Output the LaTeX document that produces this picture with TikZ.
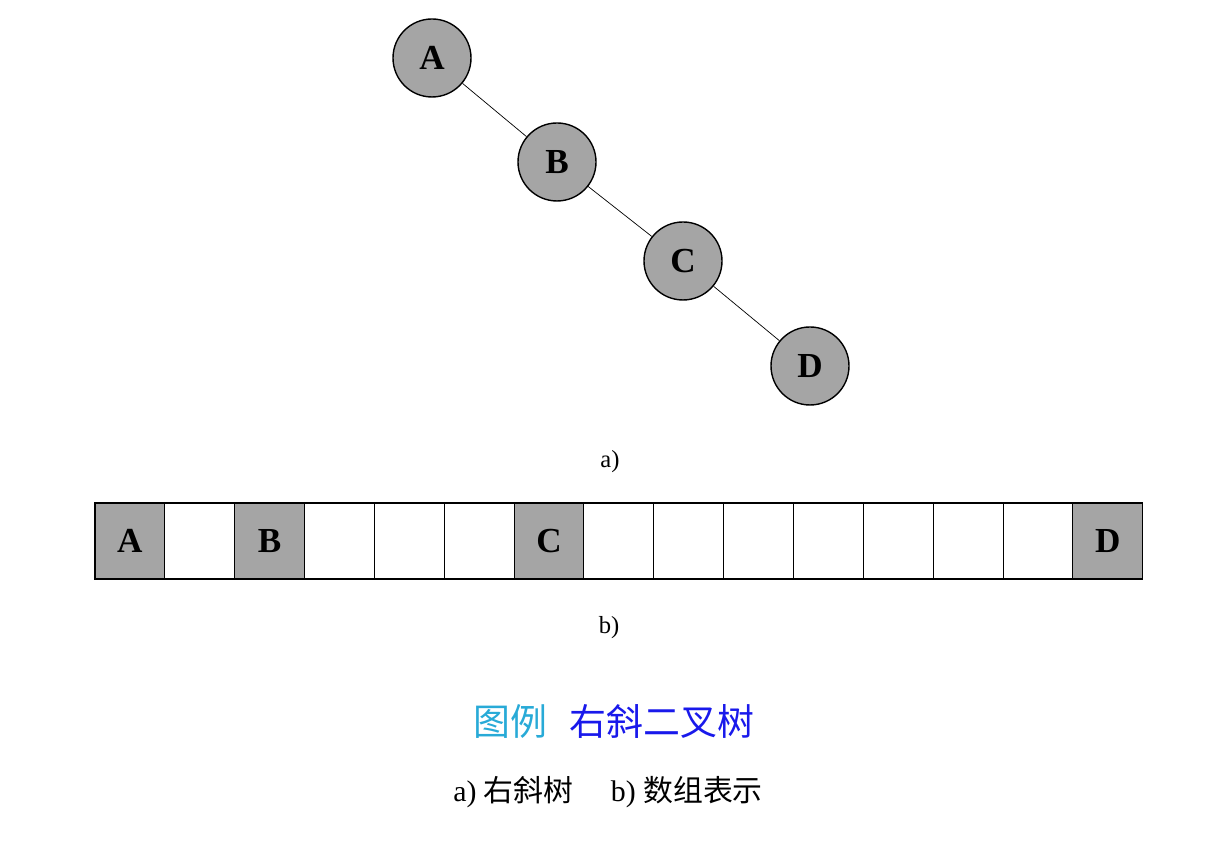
\documentclass[tikz,border=0pt]{standalone}
\usepackage{fontspec}
\setmainfont{Liberation Serif}
\newfontfamily\cjk{Noto Sans CJK SC}
\usepackage{xcolor}
\usepackage{tikz}

\begin{document}
\begin{tikzpicture}[
    treenode/.style = {circle, draw, thick, fill = dotGray, minimum size = 1.56cm,
                       inner sep = 0pt, font = \fontsize{20}{20}\selectfont\bfseries},
    cell/.style = {draw, semithick, minimum width = 1.397cm, minimum height = 1.52cm,
                   inner sep = 0pt, font = \fontsize{20}{20}\selectfont\bfseries},
    lbl/.style = {font = \fontsize{14}{14}\selectfont}
  ]
  \definecolor{dotGray}{RGB}{165, 165, 165};
  \definecolor{legendCyan}{RGB}{40, 170, 215};
  \definecolor{legendBlue}{RGB}{25, 25, 235};
  \useasboundingbox (0, 0) rectangle (24.56, 16.84);

  % a) right-skewed tree
  \node[treenode] (A) at (8.64, 15.68) {A};
  \node[treenode] (B) at (11.14, 13.60) {B};
  \node[treenode] (C) at (13.66, 11.62) {C};
  \node[treenode] (D) at (16.20, 9.52) {D};
  \draw (A) -- (B);
  \draw (B) -- (C);
  \draw (C) -- (D);
  \node[lbl] (labelA) at (12.2, 7.6) {a)};

  % b) array
  \foreach \i in {0, ..., 14}
    \node[cell] (c\i) at (1.9 + 0.6985 + 1.397*\i, 6.02) {};
  \foreach \i/\t in {0/A, 2/B, 6/C, 14/D}
    \node[cell, fill = dotGray] (s\i) at (c\i) {\t};
  \node[lbl] (labelB) at (12.18, 4.28) {b)};

  \node[font = \cjk\fontsize{21}{21}\selectfont, text = legendCyan] (legend) at (10.2, 2.4) {图例};
  \node[font = \cjk\fontsize{21}{21}\selectfont, text = legendBlue] (title) at (13.24, 2.4) {右斜二叉树};
  \node[font = \fontsize{17}{17}\selectfont] (caption) at (12.16, 1.0)
    {a) {\cjk 右斜树}\quad\ b) {\cjk 数组表示}};
\end{tikzpicture}
\end{document}
